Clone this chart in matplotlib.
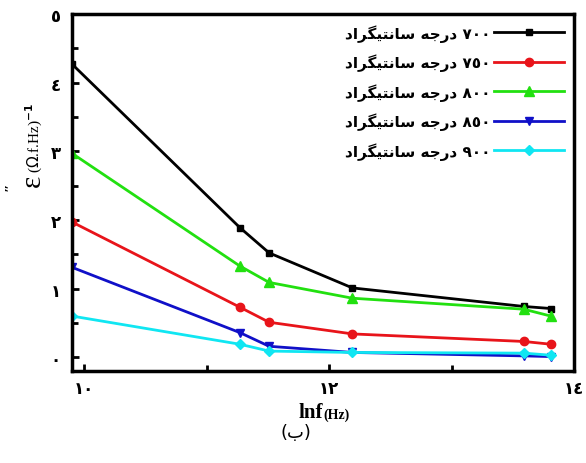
import numpy as np
from matplotlib import pyplot as plt
from matplotlib.ticker import MultipleLocator, FixedLocator, FixedFormatter


# ln f values
lnf = [9.9, 11.27, 11.51, 12.19, 13.59, 13.81]

eps_700 = [4.27, 1.89, 1.52, 1.01, 0.74, 0.71]
eps_750 = [1.97, 0.73, 0.51, 0.34, 0.23, 0.19]
eps_800 = [2.97, 1.33, 1.09, 0.86, 0.70, 0.60]
eps_850 = [1.31, 0.36, 0.16, 0.07, 0.02, 0.01]
eps_900 = [0.60, 0.19, 0.09, 0.07, 0.06, 0.03]

# labels written in visual order with arabic presentation forms
word_daraje = "\uFEEA\uFE9F\uFEAD\uFEA9"
word_santigrad = "\uFEA9\uFE8D\uFEAE\uFB95\uFEF4\uFE98\uFEE7\uFE8E\uFEB3"
temps = ["٧٠٠", "٧٥٠", "٨٠٠", "٨٥٠", "٩٠٠"]
labels = [word_santigrad + " " + word_daraje + " " + t for t in temps]

y_ticks = [0, 1, 2, 3, 4, 5]
y_ticklabels = ["٠", "١", "٢", "٣", "٤", "٥"]
x_ticks = [10, 12, 14]
x_ticklabels = ["١٠", "١٢", "١٤"]

series = [eps_700, eps_750, eps_800, eps_850, eps_900]
colors = ["black", "#e8141a", "#22e010", "#1010c8", "#10e6f2"]
markers = ["s", "o", "^", "v", "D"]
msizes = [5, 6, 7, 6, 5]


def main():
    fig = plt.figure(figsize=(5.86, 4.64), dpi=100)
    ax = fig.add_axes([0.1229, 0.1983, 0.8566, 0.7694])

    for ys, c, m, ms, lab in zip(series, colors, markers, msizes, labels):
        ax.plot(lnf, ys, color=c, lw=2, marker=m, ms=ms, label=lab)

    ax.set_xlim(9.9, 14.0)
    ax.set_ylim(-0.2, 5.0)

    ax.xaxis.set_major_locator(FixedLocator(x_ticks))
    ax.xaxis.set_major_formatter(FixedFormatter(x_ticklabels))
    ax.xaxis.set_minor_locator(MultipleLocator(1))
    ax.yaxis.set_major_locator(FixedLocator(y_ticks))
    ax.yaxis.set_major_formatter(FixedFormatter(y_ticklabels))
    ax.yaxis.set_minor_locator(MultipleLocator(0.5))

    ax.tick_params(which="both", direction="in", width=2, length=5,
                   labelsize=12)
    ax.tick_params(which="minor", length=4)
    ax.tick_params(axis="x", pad=6)
    ax.tick_params(axis="y", pad=8)
    for lab in ax.get_xticklabels() + ax.get_yticklabels():
        lab.set_fontweight("bold")
    for sp in ax.spines.values():
        sp.set_linewidth(2.5)

    # y axis label: epsilon'' (Ω.f.Hz)^-1
    ax.text(-0.078, 0.535, "ε", transform=ax.transAxes,
            rotation=90, ha="center", va="center", fontsize=21,
            family="Liberation Serif")
    ax.text(-0.122, 0.52, "″", transform=ax.transAxes,
            rotation=90, ha="center", va="center", fontsize=11,
            family="Liberation Serif", fontweight="bold")
    ax.text(-0.075, 0.655, r"($\Omega$.f.Hz)$^{\mathbf{-1}}$",
            transform=ax.transAxes, rotation=90, ha="center",
            va="center", fontsize=11, family="Liberation Serif")

    ax.text(0.5, -0.115, "lnf", transform=ax.transAxes, ha="right",
            va="center", fontsize=15, fontweight="bold",
            family="Liberation Serif")
    ax.text(0.5, -0.122, "(Hz)", transform=ax.transAxes, ha="left",
            va="center", fontsize=10, fontweight="bold",
            family="Liberation Serif")
    fig.text(0.505, 0.067, "(\uFE8F)", ha="center", va="center",
             fontsize=13, family="DejaVu Sans")

    ax.legend(loc="upper right", frameon=False, markerfirst=False,
              handlelength=4.6, handletextpad=0.2, labelspacing=0.78,
              borderaxespad=0.25,
              prop={"family": "DejaVu Sans", "weight": "bold", "size": 11})

    fig.savefig("out.png", dpi=100)


if __name__ == "__main__":
    main()
